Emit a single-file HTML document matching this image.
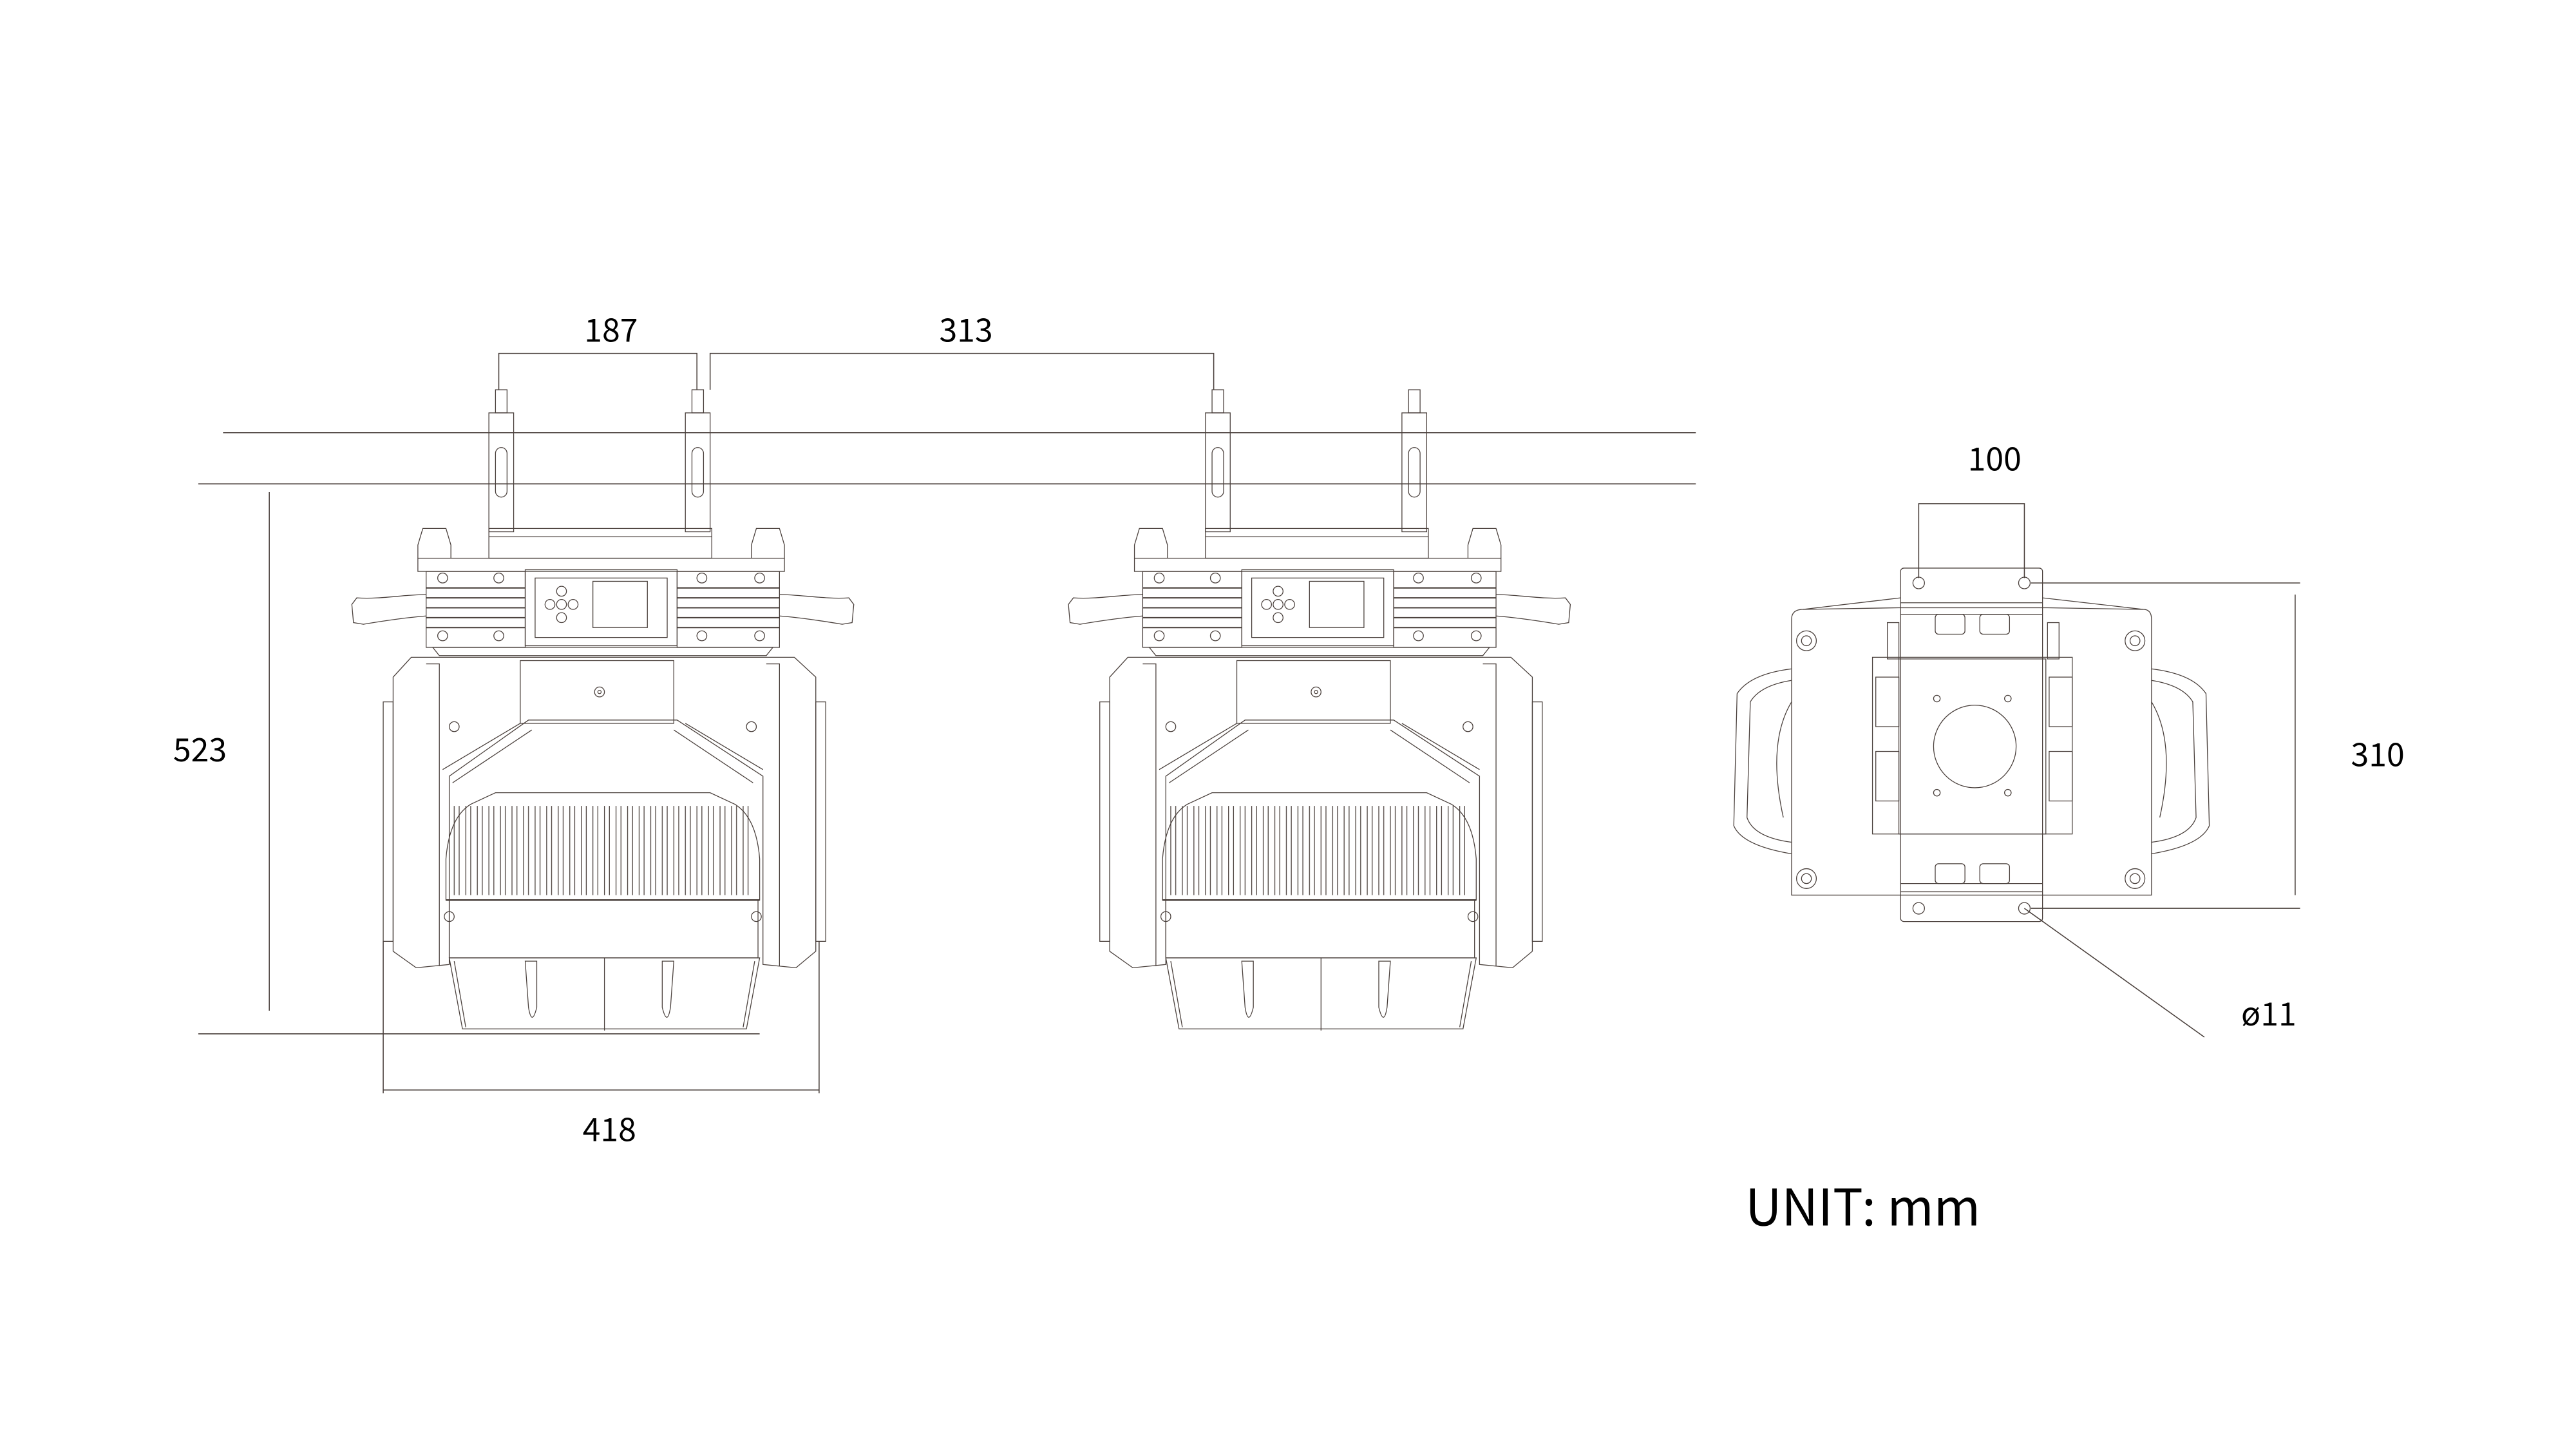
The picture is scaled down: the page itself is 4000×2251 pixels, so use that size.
<!DOCTYPE html>
<html><head><meta charset="utf-8"><style>
html,body{margin:0;padding:0;background:#fff;}
svg{display:block;}
text{font-family:"Noto Sans CJK SC","Liberation Sans",sans-serif;fill:#000;}
</style></head><body>
<svg width="4000" height="2251" viewBox="0 0 1560 878" xmlns="http://www.w3.org/2000/svg">
<defs>
<pattern id="fins" x="0" y="0" width="7" height="10" patternUnits="userSpaceOnUse">
<line x1="2" y1="0" x2="2" y2="10" stroke="#4a403c" stroke-width="0.5"/>
<line x1="5" y1="0" x2="5" y2="10" stroke="#4a403c" stroke-width="0.5"/>
</pattern>
<g id="fix" fill="none" stroke="#4a403c" stroke-width="0.5">
 <rect x="300" y="236" width="7" height="14"/>
 <rect x="296" y="250" width="15" height="72"/>
 <rect x="300" y="271" width="7" height="30" rx="3.5"/>
 <rect x="419" y="236" width="7" height="14"/>
 <rect x="415" y="250" width="15" height="72"/>
 <rect x="419" y="271" width="7" height="30" rx="3.5"/>
 <rect x="296" y="320" width="135" height="18"/>
 <line x1="296" y1="325" x2="431" y2="325"/>
 <path d="M253,338 L253,330 L256,320 L270,320 L273,330 L273,338"/>
 <path d="M455,338 L455,330 L458,320 L472,320 L475,330 L475,338"/>
 <rect x="253" y="338" width="222" height="8"/>
 <rect x="258" y="346" width="60" height="46"/>
 <rect x="410" y="346" width="62" height="46"/>
 <g stroke-width="0.8">
 <line x1="258" y1="356" x2="318" y2="356"/><line x1="258" y1="362" x2="318" y2="362"/>
 <line x1="258" y1="368" x2="318" y2="368"/><line x1="258" y1="374" x2="318" y2="374"/>
 <line x1="258" y1="380" x2="318" y2="380"/>
 <line x1="410" y1="356" x2="472" y2="356"/><line x1="410" y1="362" x2="472" y2="362"/>
 <line x1="410" y1="368" x2="472" y2="368"/><line x1="410" y1="374" x2="472" y2="374"/>
 <line x1="410" y1="380" x2="472" y2="380"/>
 </g>
 <circle cx="268" cy="350" r="3"/><circle cx="302" cy="350" r="3"/><circle cx="268" cy="385" r="3"/><circle cx="302" cy="385" r="3"/>
 <circle cx="425" cy="350" r="3"/><circle cx="460" cy="350" r="3"/><circle cx="425" cy="385" r="3"/><circle cx="460" cy="385" r="3"/>
 <rect x="318" y="345" width="92" height="46"/>
 <rect x="324" y="350" width="80" height="36"/>
 <rect x="359" y="352" width="33" height="28"/>
 <circle cx="340" cy="358" r="3"/><circle cx="333" cy="366" r="3"/><circle cx="340" cy="366" r="3"/><circle cx="347" cy="366" r="3"/><circle cx="340" cy="374" r="3"/>
 <path d="M258,360 C245,360 230,363 216,362 L213,366 L214,377 L220,378 C232,376 245,374 258,373"/>
 <path d="M472,360 C485,360 500,363 514,362 L517,366 L516,377 L510,378 C498,376 485,374 472,373"/>
 <path d="M262,392 L468,392 L464,397 L266,397 Z"/>
 <path d="M249,398 L481,398 L494,410 L494,576 L482,586 L462,584 L462,470 L410,436 L320,436 L272,470 L272,584 L252,586 L238,576 L238,410 Z"/>
 <path d="M258,402 L266,402 L266,585 M464,402 L472,402 L472,585"/>
 <path d="M315,438 L268,466 M415,438 L462,466 M322,442 L274,474 M408,442 L456,474"/>
 <rect x="232" y="425" width="6" height="145"/><rect x="494" y="425" width="6" height="145"/>
 <rect x="315" y="400" width="93" height="38"/>
 <circle cx="363" cy="419" r="3"/><circle cx="363" cy="419" r="1"/>
 <circle cx="275" cy="440" r="3"/><circle cx="455" cy="440" r="3"/>
 <circle cx="272" cy="555" r="3"/><circle cx="458" cy="555" r="3"/>
 <path d="M270,545 L270,520 Q272,495 285,487 L300,480 L430,480 L445,487 Q458,495 460,520 L460,545 Z"/>
 <rect x="274" y="488" width="182" height="54" fill="url(#fins)" stroke="none"/>
 <line x1="270" y1="545" x2="460" y2="545" stroke-width="1"/>
 <rect x="272" y="545" width="187" height="35"/>
 <path d="M272,580 L460,580 L452,623 L280,623 Z"/>
 <path d="M275,582 L282,622 M457,582 L450,622"/>
 <line x1="366" y1="580" x2="366" y2="624"/>
 <path d="M318,582 L325,582 L325,610 Q322,622 320,610 Z"/>
 <path d="M401,582 L408,582 L406,610 Q404,622 401,610 Z"/>
</g>
</defs>

<g stroke="#4a403c" stroke-width="0.6">
<line x1="135" y1="262" x2="1027" y2="262"/>
<line x1="120" y1="293" x2="1027" y2="293"/>
</g>

<use href="#fix"/>
<use href="#fix" transform="translate(434,0)"/>

<g stroke="#4a403c" stroke-width="0.6" fill="none">
<path d="M302,236 L302,214 L422,214 L422,236"/>
<path d="M430,236 L430,214 L735,214 L735,236"/>
<path d="M163,298 L163,612"/>
<path d="M120,626 L460,626"/>
<path d="M232,570 L232,662 M496,570 L496,662 M232,660 L496,660"/>
<path d="M1162,350 L1162,305 L1226,305 L1226,350"/>
<path d="M1230,353 L1393,353 M1230,550 L1393,550 M1390,360 L1390,542"/>
<path d="M1226,550 L1335,628"/>
</g>

<text x="370" y="207" font-size="19.5" text-anchor="middle">187</text>
<text x="585" y="207" font-size="19.5" text-anchor="middle">313</text>
<text x="121" y="461" font-size="19.5" text-anchor="middle">523</text>
<text x="369" y="691" font-size="19.5" text-anchor="middle">418</text>
<text x="1208" y="285" font-size="19.5" text-anchor="middle">100</text>
<text x="1440" y="464" font-size="19.5" text-anchor="middle">310</text>
<text x="1374" y="621" font-size="19.5" text-anchor="middle">ø11</text>
<text x="1057" y="742" font-size="30.5">UNIT: mm</text>

<g fill="none" stroke="#4a403c" stroke-width="0.5">
<path d="M1085,542 L1085,375 Q1085,369 1092,369 L1150,368 L1240,368 L1298,369 Q1303,369 1303,375 L1303,542 Z"/>
<path d="M1092,369 L1151,362 M1298,369 L1237,362"/>
<path d="M1085,405 Q1060,408 1052,420 L1050,500 Q1055,512 1085,517"/>
<path d="M1085,412 Q1066,415 1060,425 L1058,495 Q1062,507 1085,510"/>
<path d="M1085,425 Q1070,450 1080,495"/>
<path d="M1303,405 Q1328,408 1336,420 L1338,500 Q1333,512 1303,517"/>
<path d="M1303,412 Q1322,415 1328,425 L1330,495 Q1326,507 1303,510"/>
<path d="M1303,425 Q1318,450 1308,495"/>
<rect x="1151" y="344" width="86" height="214" rx="2"/>
<line x1="1151" y1="365" x2="1237" y2="365"/><line x1="1151" y1="372" x2="1237" y2="372"/>
<line x1="1151" y1="535" x2="1237" y2="535"/><line x1="1151" y1="540" x2="1237" y2="540"/>
<rect x="1134" y="398" width="121" height="107"/>
<rect x="1150" y="399" width="89" height="106"/>
<circle cx="1196" cy="452" r="25"/>
<rect x="1172" y="372" width="18" height="12" rx="2"/><rect x="1199" y="372" width="18" height="12" rx="2"/>
<rect x="1172" y="523" width="18" height="12" rx="2"/><rect x="1199" y="523" width="18" height="12" rx="2"/>
<rect x="1136" y="410" width="14" height="30"/><rect x="1136" y="455" width="14" height="30"/>
<rect x="1241" y="410" width="14" height="30"/><rect x="1241" y="455" width="14" height="30"/>
<rect x="1143" y="377" width="7" height="22"/><rect x="1240" y="377" width="7" height="22"/>
<circle cx="1162" cy="353" r="3.5"/><circle cx="1226" cy="353" r="3.5"/>
<circle cx="1162" cy="550" r="3.5"/><circle cx="1226" cy="550" r="3.5"/>
<circle cx="1094" cy="388" r="6"/><circle cx="1094" cy="388" r="3"/>
<circle cx="1293" cy="388" r="6"/><circle cx="1293" cy="388" r="3"/>
<circle cx="1094" cy="532" r="6"/><circle cx="1094" cy="532" r="3"/>
<circle cx="1293" cy="532" r="6"/><circle cx="1293" cy="532" r="3"/>
<circle cx="1173" cy="423" r="2"/><circle cx="1216" cy="423" r="2"/>
<circle cx="1173" cy="480" r="2"/><circle cx="1216" cy="480" r="2"/>
</g>
</svg>
</body></html>
